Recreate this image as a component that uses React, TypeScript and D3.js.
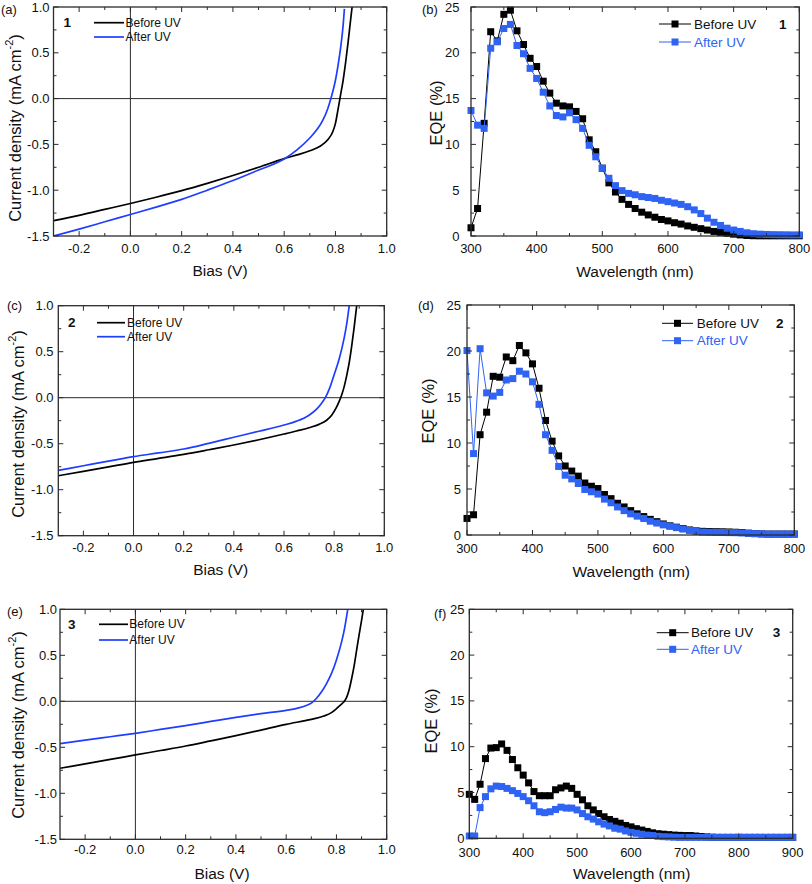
import React from "react";
import * as d3 from "d3";

const FONT = "Arial, 'Liberation Sans', Helvetica, sans-serif";
const AXIS = "#2b2b2b";
const BLACK = "#000000";
const JV_BLUE = "#1f3dff";
const EQE_BLUE = "#2f63f3";

// ---------- J-V data (bias in V, current density in mA cm^-2) ----------
const jv1BiasBefore = [-0.3, -0.2, -0.1, 0.0, 0.1, 0.2, 0.3, 0.4, 0.5, 0.6, 0.65, 0.7, 0.74, 0.77, 0.79, 0.8, 0.81, 0.82, 0.83, 0.84, 0.85, 0.86, 0.865];
const jv1Before = [-1.333, -1.275, -1.21, -1.145, -1.077, -1.005, -0.925, -0.84, -0.75, -0.655, -0.615, -0.57, -0.52, -0.45, -0.36, -0.27, -0.12, 0.04, 0.2, 0.4, 0.63, 0.88, 1.0];
const jv1BiasAfter = [-0.3, -0.2, -0.1, 0.0, 0.1, 0.2, 0.3, 0.4, 0.5, 0.6, 0.65, 0.7, 0.73, 0.75, 0.77, 0.78, 0.79, 0.8, 0.81, 0.82, 0.83, 0.835];
const jv1After = [-1.5, -1.425, -1.345, -1.265, -1.185, -1.1, -1.0, -0.895, -0.78, -0.66, -0.56, -0.43, -0.33, -0.24, -0.11, -0.02, 0.08, 0.2, 0.36, 0.55, 0.8, 0.98];

const jv2BiasBefore = [-0.3, -0.2, -0.1, 0.0, 0.1, 0.2, 0.3, 0.4, 0.5, 0.6, 0.65, 0.7, 0.74, 0.77, 0.79, 0.81, 0.82, 0.83, 0.84, 0.85, 0.86, 0.87, 0.88, 0.89];
const jv2Before = [-0.848, -0.8, -0.752, -0.703, -0.66, -0.616, -0.566, -0.514, -0.457, -0.395, -0.362, -0.326, -0.29, -0.245, -0.19, -0.1, -0.04, 0.03, 0.12, 0.24, 0.38, 0.56, 0.77, 1.0];
const jv2BiasAfter = [-0.3, -0.2, -0.1, 0.0, 0.1, 0.2, 0.3, 0.4, 0.5, 0.6, 0.65, 0.7, 0.73, 0.75, 0.765, 0.78, 0.8, 0.82, 0.84, 0.85, 0.86];
const jv2After = [-0.79, -0.74, -0.69, -0.641, -0.6, -0.558, -0.496, -0.43, -0.365, -0.297, -0.255, -0.19, -0.125, -0.06, 0.0, 0.09, 0.25, 0.42, 0.65, 0.8, 1.0];

const jv3BiasBefore = [-0.3, -0.2, -0.1, 0.0, 0.1, 0.2, 0.3, 0.4, 0.5, 0.6, 0.7, 0.75, 0.78, 0.8, 0.82, 0.83, 0.84, 0.85, 0.86, 0.87, 0.88, 0.89, 0.9, 0.907];
const jv3Before = [-0.728, -0.68, -0.632, -0.583, -0.535, -0.486, -0.43, -0.373, -0.313, -0.25, -0.196, -0.16, -0.123, -0.08, -0.03, -0.005, 0.04, 0.12, 0.24, 0.38, 0.55, 0.72, 0.88, 1.0];
const jv3BiasAfter = [-0.3, -0.2, -0.1, 0.0, 0.1, 0.2, 0.3, 0.4, 0.5, 0.6, 0.65, 0.68, 0.7, 0.72, 0.74, 0.76, 0.78, 0.8, 0.82, 0.83, 0.845];
const jv3After = [-0.46, -0.422, -0.385, -0.348, -0.306, -0.264, -0.219, -0.174, -0.134, -0.098, -0.072, -0.045, -0.02, 0.03, 0.1, 0.19, 0.3, 0.45, 0.64, 0.76, 1.0];

// ---------- EQE data (wavelength in nm, EQE in %) ----------
const wl800 = [300, 310, 320, 330, 340, 350, 360, 370, 380, 390, 400, 410, 420, 430, 440, 450, 460, 470, 480, 490, 500, 510, 520, 530, 540, 550, 560, 570, 580, 590, 600, 610, 620, 630, 640, 650, 660, 670, 680, 690, 700, 710, 720, 730, 740, 750, 760, 770, 780, 790, 800];
const wl900 = [300, 310, 320, 330, 340, 350, 360, 370, 380, 390, 400, 410, 420, 430, 440, 450, 460, 470, 480, 490, 500, 510, 520, 530, 540, 550, 560, 570, 580, 590, 600, 610, 620, 630, 640, 650, 660, 670, 680, 690, 700, 710, 720, 730, 740, 750, 760, 770, 780, 790, 800, 810, 820, 830, 840, 850, 860, 870, 880, 890, 900];

const eqe1Before = [0.9, 3.0, 12.3, 22.3, 21.3, 24.2, 24.65, 22.4, 20.9, 19.4, 18.5, 16.9, 15.6, 14.5, 14.2, 14.1, 13.6, 12.8, 10.5, 9.2, 7.4, 5.8, 4.8, 4.0, 3.45, 3.0, 2.6, 2.3, 2.05, 1.8, 1.65, 1.45, 1.3, 1.1, 0.95, 0.8, 0.65, 0.5, 0.4, 0.3, 0.2, 0.12, 0.06, 0.03, 0.02, 0.02, 0.02, 0.02, 0.02, 0.02, 0.02];
const eqe1After = [13.7, 12.1, 11.75, 20.5, 21.2, 22.65, 23.1, 20.8, 19.9, 18.3, 17.2, 15.7, 14.2, 13.15, 13.0, 13.45, 12.7, 11.75, 9.9, 8.65, 7.4, 6.3, 5.5, 4.95, 4.65, 4.5, 4.3, 4.2, 4.1, 3.9, 3.75, 3.6, 3.45, 3.2, 2.85, 2.45, 1.95, 1.5, 1.15, 0.85, 0.65, 0.5, 0.35, 0.25, 0.2, 0.17, 0.15, 0.14, 0.13, 0.12, 0.12];

const eqe2Before = [1.8, 2.2, 10.9, 13.35, 17.25, 17.15, 19.35, 18.95, 20.6, 19.8, 18.6, 15.95, 12.45, 10.2, 8.6, 7.5, 6.95, 6.4, 5.65, 5.3, 5.05, 4.4, 3.95, 3.45, 3.05, 2.65, 2.3, 2.0, 1.7, 1.45, 1.2, 1.0, 0.85, 0.7, 0.55, 0.45, 0.4, 0.38, 0.36, 0.35, 0.33, 0.3, 0.27, 0.2, 0.15, 0.12, 0.1, 0.1, 0.1, 0.1, 0.1];
const eqe2After = [20.05, 8.85, 20.25, 15.45, 15.1, 15.5, 16.85, 17.0, 17.8, 17.5, 16.65, 14.2, 10.9, 9.2, 7.45, 6.5, 6.1, 5.6, 4.95, 4.7, 4.45, 3.9, 3.5, 3.05, 2.65, 2.3, 2.05, 1.8, 1.5, 1.3, 1.1, 0.95, 0.8, 0.65, 0.5, 0.4, 0.32, 0.3, 0.28, 0.27, 0.26, 0.25, 0.22, 0.18, 0.15, 0.12, 0.1, 0.1, 0.1, 0.1, 0.1];

const eqe3Before = [4.8, 4.25, 5.9, 8.7, 9.85, 9.9, 10.3, 9.6, 8.6, 7.7, 6.9, 6.05, 5.1, 4.65, 4.65, 4.65, 5.3, 5.5, 5.7, 5.45, 4.8, 4.2, 3.55, 3.1, 2.7, 2.35, 2.05, 1.85, 1.65, 1.4, 1.25, 1.05, 0.9, 0.75, 0.6, 0.5, 0.45, 0.4, 0.35, 0.32, 0.3, 0.3, 0.25, 0.2, 0.15, 0.12, 0.1, 0.1, 0.1, 0.1, 0.1, 0.1, 0.1, 0.1, 0.1, 0.1, 0.1, 0.1, 0.1, 0.1, 0.1];
const eqe3After = [0.25, 0.25, 3.35, 4.55, 5.4, 5.7, 5.65, 5.45, 5.2, 4.9, 4.55, 4.1, 3.55, 2.9, 2.8, 2.9, 3.15, 3.4, 3.3, 3.3, 3.1, 2.7, 2.35, 2.1, 1.8, 1.55, 1.35, 1.1, 1.0, 0.8, 0.65, 0.55, 0.45, 0.35, 0.3, 0.22, 0.18, 0.15, 0.12, 0.1, 0.1, 0.1, 0.1, 0.1, 0.1, 0.1, 0.1, 0.1, 0.1, 0.1, 0.1, 0.1, 0.1, 0.1, 0.1, 0.1, 0.1, 0.1, 0.1, 0.1, 0.1];

// ---------- tick labels ----------
const jvXTicks = [-0.2, 0.0, 0.2, 0.4, 0.6, 0.8, 1.0];
const jvYTicks = [-1.5, -1.0, -0.5, 0.0, 0.5, 1.0];
const eqeYTicks = [0, 5, 10, 15, 20, 25];
const eqeXTicks800 = [300, 400, 500, 600, 700, 800];
const eqeXTicks900 = [300, 400, 500, 600, 700, 800, 900];
const seriesNames = ["Before UV", "After UV"];

type Frame = { l: number; r: number; t: number; b: number };
type Scale = d3.ScaleLinear<number, number>;

interface PanelProps {
  id: string;
  frame: Frame;
  xDomain: [number, number];
  yDomain: [number, number];
  xTicks: number[];
  yTicks: number[];
  xMinorStep: number;
  yMinorStep: number;
  xFmt: (v: number) => string;
  yFmt: (v: number) => string;
  yLabelX: number;
  xLabelY: number;
  xTitle: string;
  xTitlePos: [number, number];
  yTitle: React.ReactNode;
  yTitlePos: [number, number];
  yTitleSize: number;
  tag: string;
  tagPos: [number, number];
  render: (x: Scale, y: Scale, clip: string) => React.ReactNode;
}

function minorValues(domain: [number, number], step: number, majors: number[]) {
  const out: number[] = [];
  const i0 = Math.ceil(domain[0] / step - 1e-6);
  const i1 = Math.floor(domain[1] / step + 1e-6);
  for (let i = i0; i <= i1; i++) {
    const v = i * step;
    if (Math.abs(v - domain[0]) < step * 0.01 || Math.abs(v - domain[1]) < step * 0.01) continue;
    if (majors.some((m) => Math.abs(m - v) < step * 0.01)) continue;
    out.push(v);
  }
  return out;
}

function Panel(p: PanelProps) {
  const { l, r, t, b } = p.frame;
  const x = d3.scaleLinear().domain(p.xDomain).range([l, r]);
  const y = d3.scaleLinear().domain(p.yDomain).range([b, t]);
  const MAJ = 5;
  const MIN = 3;
  const xMin = minorValues(p.xDomain, p.xMinorStep, p.xTicks);
  const yMin = minorValues(p.yDomain, p.yMinorStep, p.yTicks);
  const clipId = `${p.id}-clip`;
  const tick = (key: string, x1: number, y1: number, x2: number, y2: number) => (
    <line key={key} x1={x1} y1={y1} x2={x2} y2={y2} stroke={AXIS} strokeWidth={1} />
  );
  return (
    <g>
      <defs>
        <clipPath id={clipId}>
          <rect x={l} y={t} width={r - l} height={b - t} />
        </clipPath>
      </defs>
      {p.render(x, y, `url(#${clipId})`)}
      {p.xTicks.map((v) => [
        tick(`xb${v}`, x(v), b, x(v), b - MAJ),
        tick(`xt${v}`, x(v), t, x(v), t + MAJ),
      ])}
      {xMin.map((v) => [
        tick(`xmb${v}`, x(v), b, x(v), b - MIN),
        tick(`xmt${v}`, x(v), t, x(v), t + MIN),
      ])}
      {p.yTicks.map((v) => [
        tick(`yl${v}`, l, y(v), l + MAJ, y(v)),
        tick(`yr${v}`, r, y(v), r - MAJ, y(v)),
      ])}
      {yMin.map((v) => [
        tick(`yml${v}`, l, y(v), l + MIN, y(v)),
        tick(`ymr${v}`, r, y(v), r - MIN, y(v)),
      ])}
      <rect x={l} y={t} width={r - l} height={b - t} fill="none" stroke={AXIS} strokeWidth={1.3} />
      {p.xTicks.map((v) => (
        <text key={`xl${v}`} x={x(v)} y={p.xLabelY} textAnchor="middle" dominantBaseline="central" fontSize={13} fill="#111">
          {p.xFmt(v)}
        </text>
      ))}
      {p.yTicks.map((v) => (
        <text key={`yl${v}`} x={p.yLabelX} y={y(v)} textAnchor="end" dominantBaseline="central" fontSize={13} fill="#111">
          {p.yFmt(v)}
        </text>
      ))}
      <text x={p.xTitlePos[0]} y={p.xTitlePos[1]} textAnchor="middle" dominantBaseline="central" fontSize={15.5} fill="#111">
        {p.xTitle}
      </text>
      <text
        transform={`translate(${p.yTitlePos[0]},${p.yTitlePos[1]}) rotate(-90)`}
        textAnchor="middle"
        dominantBaseline="central"
        fontSize={p.yTitleSize}
        fill="#111"
      >
        {p.yTitle}
      </text>
      <text x={p.tagPos[0]} y={p.tagPos[1]} dominantBaseline="central" fontSize={13} fill="#111">
        {p.tag}
      </text>
    </g>
  );
}

interface Legend {
  num: string;
  numX: number;
  lineX: [number, number];
  textX: number;
  rows: [number, number];
}

function jvRender(biasB: number[], jB: number[], biasA: number[], jA: number[], lg: Legend) {
  return (x: Scale, y: Scale, clip: string) => {
    const mk = (bias: number[]) =>
      d3.line<number>().x((_, i) => x(bias[i])).y((d) => y(d)).curve(d3.curveMonotoneX);
    const [x0, x1] = x.range();
    const [y0, y1] = y.range();
    return (
      <g>
        <line x1={x0} x2={x1} y1={y(0)} y2={y(0)} stroke={AXIS} strokeWidth={1} />
        <line x1={x(0)} x2={x(0)} y1={y0} y2={y1} stroke={AXIS} strokeWidth={1} />
        <g clipPath={clip}>
          <path d={mk(biasB)(jB) || ""} fill="none" stroke={BLACK} strokeWidth={1.7} />
          <path d={mk(biasA)(jA) || ""} fill="none" stroke={JV_BLUE} strokeWidth={1.7} />
        </g>
        <text x={lg.numX} y={lg.rows[0]} dominantBaseline="central" fontSize={13.5} fontWeight="bold" fill="#111">
          {lg.num}
        </text>
        {[BLACK, JV_BLUE].map((c, i) => (
          <g key={i}>
            <line x1={lg.lineX[0]} x2={lg.lineX[1]} y1={lg.rows[i]} y2={lg.rows[i]} stroke={c} strokeWidth={1.7} />
            <text x={lg.textX} y={lg.rows[i]} dominantBaseline="central" fontSize={12} fill="#111">
              {seriesNames[i]}
            </text>
          </g>
        ))}
      </g>
    );
  };
}

function eqeRender(wl: number[], before: number[], after: number[], lg: Legend) {
  return (x: Scale, y: Scale, _clip: string) => {
    const line = d3.line<number>().x((_, i) => x(wl[i])).y((d) => y(d));
    const S = 7;
    const series = [
      { vals: before, color: BLACK },
      { vals: after, color: EQE_BLUE },
    ];
    return (
      <g>
        {series.map((s, k) => (
          <g key={k}>
            <path d={line(s.vals) || ""} fill="none" stroke={s.color} strokeWidth={1} />
            {s.vals.map((v, i) => (
              <rect key={i} x={x(wl[i]) - S / 2} y={y(v) - S / 2} width={S} height={S} fill={s.color} />
            ))}
          </g>
        ))}
        <text x={lg.numX} y={lg.rows[0]} dominantBaseline="central" fontSize={13.5} fontWeight="bold" fill="#111">
          {lg.num}
        </text>
        {series.map((s, i) => {
          const mid = (lg.lineX[0] + lg.lineX[1]) / 2;
          return (
            <g key={`lg${i}`}>
              <line x1={lg.lineX[0]} x2={lg.lineX[1]} y1={lg.rows[i]} y2={lg.rows[i]} stroke={s.color} strokeWidth={1} />
              <rect x={mid - S / 2} y={lg.rows[i] - S / 2} width={S} height={S} fill={s.color} />
              <text x={lg.textX} y={lg.rows[i]} dominantBaseline="central" fontSize={13.5} fill={i === 0 ? "#111" : EQE_BLUE}>
                {seriesNames[i]}
              </text>
            </g>
          );
        })}
      </g>
    );
  };
}

const jvYTitle = (
  <>
    Current density (mA cm<tspan dy={-6} fontSize={11}>-2</tspan>
    <tspan dy={6}>)</tspan>
  </>
);

const f1 = (v: number) => v.toFixed(1);
const f0 = (v: number) => String(v);

export default function App() {
  return (
    <svg
      width={812}
      height={884}
      viewBox="0 0 812 884"
      style={{ position: "absolute", left: 0, top: 0, background: "#fff", fontFamily: FONT }}
    >
      <rect x={0} y={0} width={812} height={884} fill="#fff" />
      {/* (a) */}
      <Panel
        id="pa"
        frame={{ l: 53.5, r: 386.7, t: 7, b: 236 }}
        xDomain={[-0.3, 1.0]}
        yDomain={[-1.5, 1.0]}
        xTicks={jvXTicks}
        yTicks={jvYTicks}
        xMinorStep={0.1}
        yMinorStep={0.25}
        xFmt={f1}
        yFmt={f1}
        yLabelX={49.5}
        xLabelY={248}
        xTitle="Bias (V)"
        xTitlePos={[220, 270]}
        yTitle={jvYTitle}
        yTitlePos={[14.5, 128]}
        yTitleSize={16.5}
        tag="(a)"
        tagPos={[1, 9]}
        render={jvRender(jv1BiasBefore, jv1Before, jv1BiasAfter, jv1After, {
          num: "1", numX: 63.5, lineX: [94, 124], textX: 125.5, rows: [22.7, 37],
        })}
      />
      {/* (b) */}
      <Panel
        id="pb"
        frame={{ l: 471, r: 799.3, t: 7, b: 236 }}
        xDomain={[300, 800]}
        yDomain={[0, 25]}
        xTicks={eqeXTicks800}
        yTicks={eqeYTicks}
        xMinorStep={50}
        yMinorStep={2.5}
        xFmt={f0}
        yFmt={f0}
        yLabelX={459.5}
        xLabelY={248.7}
        xTitle="Wavelength (nm)"
        xTitlePos={[635, 271.7]}
        yTitle="EQE (%)"
        yTitlePos={[436, 113]}
        yTitleSize={16.5}
        tag="(b)"
        tagPos={[422, 9]}
        render={eqeRender(wl800, eqe1Before, eqe1After, {
          num: "1", numX: 779, lineX: [659, 691], textX: 694, rows: [24, 42],
        })}
      />
      {/* (c) */}
      <Panel
        id="pc"
        frame={{ l: 58.3, r: 384.3, t: 305.7, b: 535.7 }}
        xDomain={[-0.3, 1.0]}
        yDomain={[-1.5, 1.0]}
        xTicks={jvXTicks}
        yTicks={jvYTicks}
        xMinorStep={0.1}
        yMinorStep={0.25}
        xFmt={f1}
        yFmt={f1}
        yLabelX={53.5}
        xLabelY={547}
        xTitle="Bias (V)"
        xTitlePos={[220.7, 569.3]}
        yTitle={jvYTitle}
        yTitlePos={[17.5, 424]}
        yTitleSize={16.5}
        tag="(c)"
        tagPos={[7, 305.7]}
        render={jvRender(jv2BiasBefore, jv2Before, jv2BiasAfter, jv2After, {
          num: "2", numX: 68, lineX: [97, 125], textX: 127, rows: [322.7, 336.7],
        })}
      />
      {/* (d) */}
      <Panel
        id="pd"
        frame={{ l: 467, r: 794.3, t: 305, b: 535 }}
        xDomain={[300, 800]}
        yDomain={[0, 25]}
        xTicks={eqeXTicks800}
        yTicks={eqeYTicks}
        xMinorStep={50}
        yMinorStep={2.5}
        xFmt={f0}
        yFmt={f0}
        yLabelX={461}
        xLabelY={548.5}
        xTitle="Wavelength (nm)"
        xTitlePos={[631.3, 571.7]}
        yTitle="EQE (%)"
        yTitlePos={[427.5, 411]}
        yTitleSize={16.5}
        tag="(d)"
        tagPos={[418, 305]}
        render={eqeRender(wl800, eqe2Before, eqe2After, {
          num: "2", numX: 776, lineX: [662, 693], textX: 696.7, rows: [323.3, 340.7],
        })}
      />
      {/* (e) */}
      <Panel
        id="pe"
        frame={{ l: 60, r: 386.7, t: 609.3, b: 839.3 }}
        xDomain={[-0.3, 1.0]}
        yDomain={[-1.5, 1.0]}
        xTicks={jvXTicks}
        yTicks={jvYTicks}
        xMinorStep={0.1}
        yMinorStep={0.25}
        xFmt={f1}
        yFmt={f1}
        yLabelX={57}
        xLabelY={849}
        xTitle="Bias (V)"
        xTitlePos={[222, 873.3]}
        yTitle={jvYTitle}
        yTitlePos={[17.5, 725]}
        yTitleSize={16.5}
        tag="(e)"
        tagPos={[7, 611.7]}
        render={jvRender(jv3BiasBefore, jv3Before, jv3BiasAfter, jv3After, {
          num: "3", numX: 68, lineX: [99, 128], textX: 129.3, rows: [624.3, 640],
        })}
      />
      {/* (f) */}
      <Panel
        id="pf"
        frame={{ l: 469.3, r: 792.7, t: 609.3, b: 838.3 }}
        xDomain={[300, 900]}
        yDomain={[0, 25]}
        xTicks={eqeXTicks900}
        yTicks={eqeYTicks}
        xMinorStep={50}
        yMinorStep={2.5}
        xFmt={f0}
        yFmt={f0}
        yLabelX={464.5}
        xLabelY={852}
        xTitle="Wavelength (nm)"
        xTitlePos={[631.7, 873.5]}
        yTitle="EQE (%)"
        yTitlePos={[431, 721]}
        yTitleSize={16.5}
        tag="(f)"
        tagPos={[434, 613]}
        render={eqeRender(wl900, eqe3Before, eqe3After, {
          num: "3", numX: 772.7, lineX: [656.7, 688.7], textX: 691, rows: [632.7, 649.3],
        })}
      />
    </svg>
  );
}
